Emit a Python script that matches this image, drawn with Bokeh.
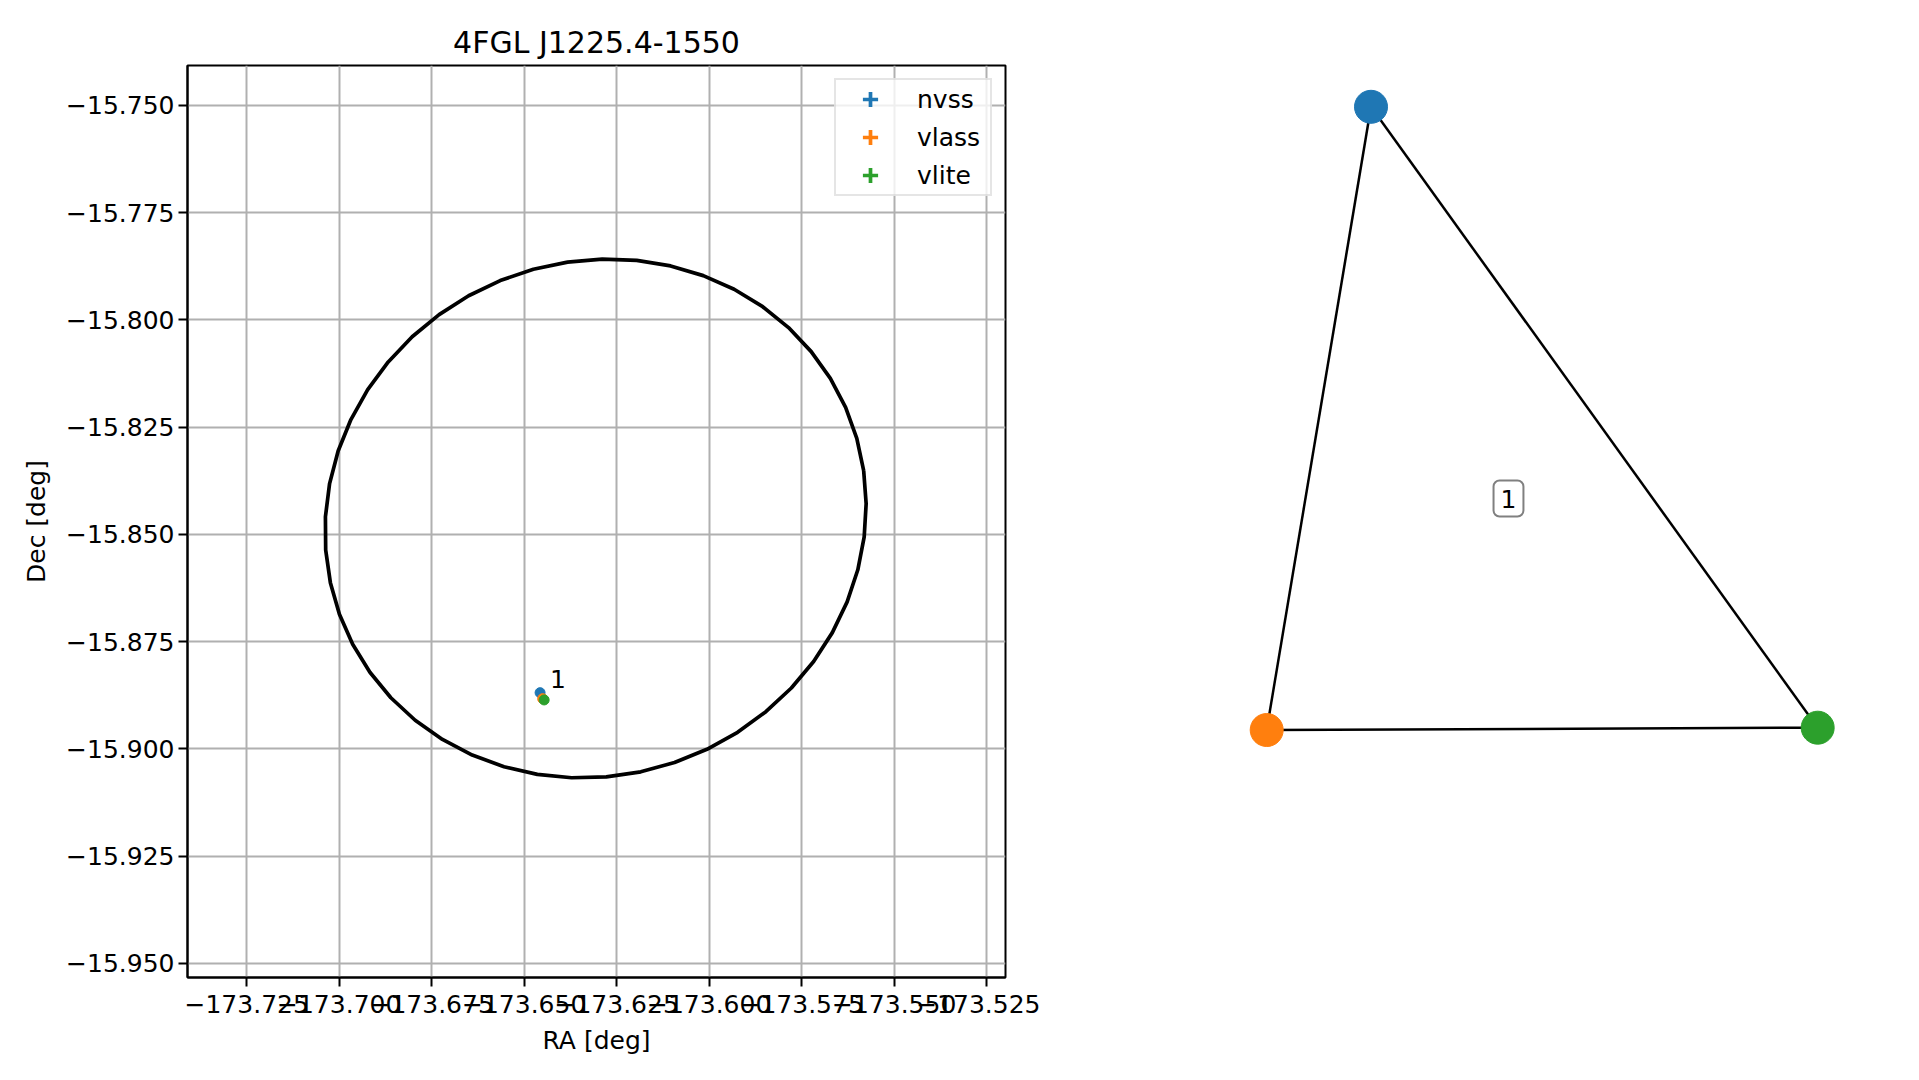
import numpy as np
from bokeh.plotting import figure
from bokeh.layouts import row
from bokeh.models import (Range1d, FixedTicker, CustomJSTickFormatter, Legend, LegendItem,
                          Label, AllLabels)
from bokeh.core.properties import value
from bokeh.embed import file_html
from bokeh.resources import INLINE

FONT = "DejaVu Sans"

# ---------------- data ----------------
title_text = "4FGL J1225.4-1550"
surveys = ["nvss", "vlass", "vlite"]
colors = ["#1f77b4", "#ff7f0e", "#2ca02c"]
src_ra = [-173.6457, -173.6450, -173.6446]
src_dec = [-15.8869, -15.8883, -15.8886]
src_ra_err = [0.0003, 0.0002, 0.0003]
src_dec_err = [0.0003, 0.0002, 0.0003]
group_label = "1"

# 4FGL error ellipse
ell_ra = -173.6307
ell_dec = -15.8463
ell_major = 0.0706
ell_minor = 0.0602
ell_pa = 80.9
ell_npts = 50

ra_ticks = [-173.725, -173.700, -173.675, -173.650, -173.625, -173.600, -173.575, -173.550, -173.525]
dec_ticks = [-15.750, -15.775, -15.800, -15.825, -15.850, -15.875, -15.900, -15.925, -15.950]
ra_lim = (-173.7410, -173.5199)
dec_lim = (-15.9533, -15.7407)

# graph panel (node layout coordinates)
node_x = [-0.2976, -0.5824, 0.9220]
node_y = [1.0913, -0.5487, -0.5426]
edge_from = [0, 1, 2]
edge_to = [1, 2, 0]
graph_label_x = 0.0778
graph_label_y = 0.0605

# ---------------- left: sky plot ----------------
p = figure(width=1040, height=1072, output_backend="svg", toolbar_location=None,
           x_range=Range1d(*ra_lim), y_range=Range1d(*dec_lim),
           min_border_left=187, min_border_right=35, min_border_top=65, min_border_bottom=95)
p.background_fill_color = "white"
p.border_fill_color = "white"
p.outline_line_color = "black"
p.outline_line_width = 2

p.title.text = title_text
p.title.text_font = FONT
p.title.text_font_size = "30px"
p.title.text_font_style = "normal"
p.title.text_color = "black"
p.title.align = "center"
p.title.standoff = 11

fmt = CustomJSTickFormatter(code="return (tick < 0 ? '\u2212' : '') + Math.abs(tick).toFixed(3);")
for ax, ticks, lab in ((p.xaxis[0], ra_ticks, "RA [deg]"), (p.yaxis[0], dec_ticks, "Dec [deg]")):
    ax.ticker = FixedTicker(ticks=ticks)
    ax.formatter = fmt
    ax.major_label_policy = AllLabels()
    ax.axis_label = lab
    ax.axis_label_text_font = FONT
    ax.axis_label_text_font_size = "25px"
    ax.axis_label_text_font_style = "normal"
    ax.axis_label_text_color = "black"
    ax.major_label_text_font = FONT
    ax.major_label_text_font_size = "25px"
    ax.major_label_text_color = "black"
    ax.axis_line_color = "black"
    ax.axis_line_width = 2
    ax.major_tick_line_color = "black"
    ax.major_tick_line_width = 2
    ax.major_tick_out = 9
    ax.major_tick_in = 0
    ax.minor_tick_line_color = None
p.xaxis[0].major_label_standoff = 8
p.yaxis[0].major_label_standoff = 4
p.xaxis[0].axis_label_standoff = 10
p.yaxis[0].axis_label_standoff = 12

for g in (p.xgrid[0], p.ygrid[0]):
    g.grid_line_color = "#b0b0b0"
    g.grid_line_width = 2

# error ellipse
t = np.linspace(0, 2 * np.pi, ell_npts)
pa = np.radians(ell_pa)
X = ell_major * np.cos(t)
Y = ell_minor * np.sin(t)
dE = X * np.sin(pa) + Y * np.cos(pa)
dN = X * np.cos(pa) - Y * np.sin(pa)
ell_x = ell_ra + dE / np.cos(np.radians(ell_dec))
ell_y = ell_dec + dN
p.line(ell_x, ell_y, line_color="black", line_width=3.7)

items = []
for i, s in enumerate(surveys):
    c = colors[i]
    # error bars
    p.segment(x0=[src_ra[i] - src_ra_err[i]], y0=[src_dec[i]],
              x1=[src_ra[i] + src_ra_err[i]], y1=[src_dec[i]], line_color=c, line_width=3.7)
    p.segment(x0=[src_ra[i]], y0=[src_dec[i] - src_dec_err[i]],
              x1=[src_ra[i]], y1=[src_dec[i] + src_dec_err[i]], line_color=c, line_width=3.7)
    cr = p.scatter(x=[src_ra[i]], y=[src_dec[i]], marker="cross", size=3,
                   line_color=c, line_width=3.7)
    dr = p.scatter(x=[src_ra[i]], y=[src_dec[i]], marker="dot", size=3,
                   line_color=c, fill_color=c)
    p.scatter(x=[src_ra[i]], y=[src_dec[i]], marker="circle", size=10,
              fill_color=c, line_color=c)
    items.append(LegendItem(label=s, renderers=[cr, dr]))

p.text(x=[src_ra[0]], y=[src_dec[0]], text=[group_label], x_offset=10, y_offset=-14,
       text_font=value(FONT), text_font_size="25px", text_baseline="middle",
       text_align="left", text_color="black")

legend = Legend(items=items, location="top_right", margin=13, padding=0, spacing=0,
                glyph_width=68, glyph_height=38, label_height=38,
                label_standoff=13, label_width=73,
                label_text_font=FONT, label_text_font_size="25px", label_text_color="black",
                border_line_color="#cccccc", border_line_width=2,
                background_fill_color="white", background_fill_alpha=0.8)
p.add_layout(legend)

# ---------------- right: graph ----------------
q = figure(width=879, height=1072, output_backend="svg", toolbar_location=None,
           x_range=Range1d(-1.2, 1.2), y_range=Range1d(-1.2, 1.2),
           min_border_left=0, min_border_right=0, min_border_top=65, min_border_bottom=95)
q.axis.visible = False
q.grid.visible = False
q.outline_line_color = None
q.background_fill_color = "white"
q.border_fill_color = "white"

q.segment(x0=[node_x[a] for a in edge_from], y0=[node_y[a] for a in edge_from],
          x1=[node_x[b] for b in edge_to], y1=[node_y[b] for b in edge_to],
          line_color="black", line_width=2.5)
q.scatter(x=node_x, y=node_y, marker="circle", size=33, fill_color=colors, line_color=colors)
q.add_layout(Label(x=graph_label_x, y=graph_label_y, text=group_label,
                   text_align="center", text_baseline="middle",
                   text_font=FONT, text_font_size="25px", text_color="black",
                   background_fill_color="white", border_line_color="#808080",
                   border_line_width=2, border_radius=6,
                   padding=dict(left=7, right=7, top=9, bottom=9)))

layout = row(p, q)
open("out.html", "w").write(file_html(layout, INLINE))
